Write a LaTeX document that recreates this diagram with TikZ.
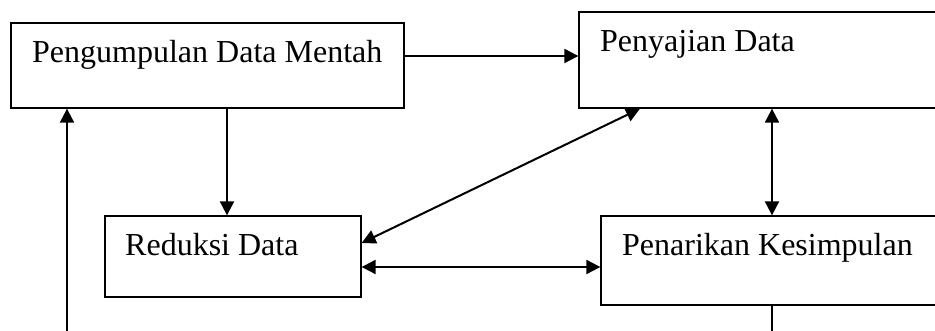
\documentclass[tikz,border=0pt]{standalone}
\usepackage{fontspec}
\setmainfont{Liberation Serif}
\usetikzlibrary{arrows.meta}
\begin{document}
\begin{tikzpicture}[x=1pt,y=-1pt,
  box/.style={draw, line width=1.3pt, rectangle, inner sep=0pt},
  lbl/.style={anchor=base west, inner sep=0pt, font=\fontsize{32}{38}\selectfont},
  conn/.style={line width=2pt},
  arr/.style={conn, -{Triangle[length=14pt,width=14pt]}},
  darr/.style={conn, {Triangle[length=14pt,width=14pt]}-{Triangle[length=14pt,width=14pt]}}]
\useasboundingbox (0,0) rectangle (935,331);
\clip (0,0) rectangle (935,331);
% boxes
\node[box, minimum width=393pt, minimum height=85pt] (b1) at (207.5,65.5) {};
\node[box, minimum width=372pt, minimum height=96pt] (b2) at (765,60) {};
\node[box, minimum width=256pt, minimum height=81pt] (b3) at (233,256.5) {};
\node[box, minimum width=350pt, minimum height=89pt] (b4) at (776,260.5) {};
% labels
\node[lbl] (t1) at (32,63) {Pengumpulan Data Mentah};
\node[lbl] (t2) at (600,52) {Penyajian Data};
\node[lbl] (t3) at (125,256) {Reduksi Data};
\node[lbl] (t4) at (622,256) {Penarikan Kesimpulan};
% free ends
\coordinate (lb) at (67,345);
\coordinate (rb) at (772,345);
% connectors
\draw[arr] (b1.east |- 0,56) -- (b2.west |- 0,56);
\draw[arr] (b1.south -| 227,0) -- (b3.north -| 227,0);
\draw[arr] (lb) -- (lb |- b1.south);
\draw[darr] (b2.south -| 772,0) -- (b4.north -| 772,0);
\draw[conn] (b4.south -| 772,0) -- (rb);
\draw[darr] (b2.south -| 640,0) -- (b3.east |- 0,243);
\draw[darr] (b3.east |- 0,267) -- (b4.west |- 0,267);
\end{tikzpicture}
\end{document}
